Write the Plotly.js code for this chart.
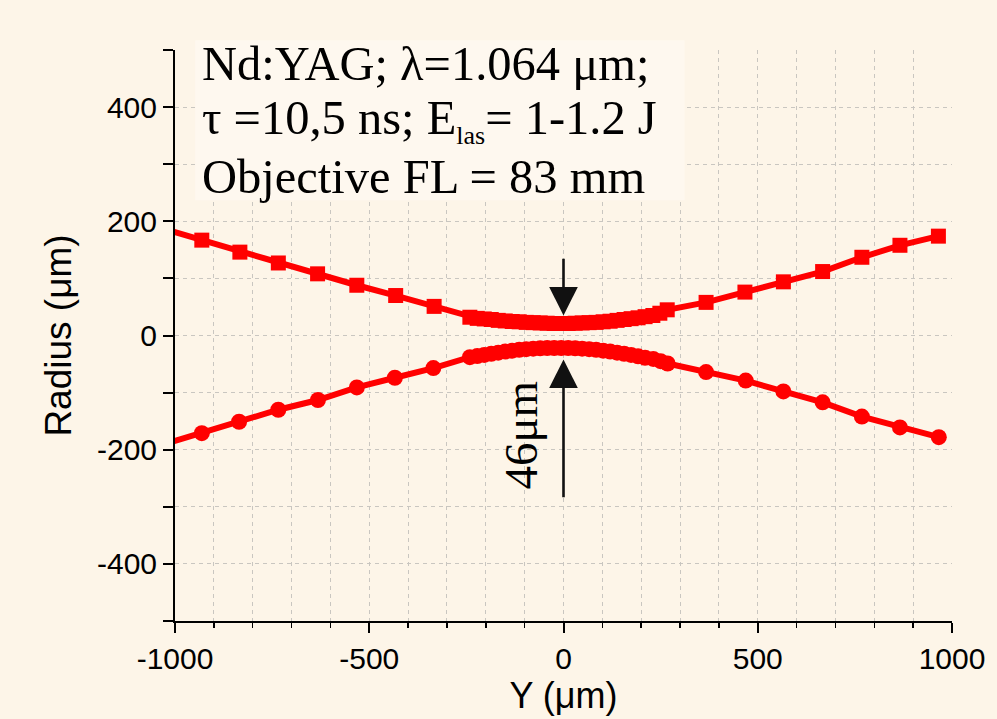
<!DOCTYPE html>
<html>
<head>
<meta charset="utf-8">
<script src="https://cdn.plot.ly/plotly-3.0.1.min.js"></script>
<style>html,body{margin:0;padding:0;background:#fdf5e8;}</style>
</head>
<body>
<div id="chart" style="width:997px;height:719px;"></div>
<script>
// Upper branch (squares): Y position (µm) and radius (µm)
const upperX = [-1031, -931, -833, -734, -633, -532, -432, -333, -241, -222, -204, -186, -168, -150, -132, -114, -96, -78, -60, -42, -24, -6, 12, 30, 48, 66, 84, 102, 120, 138, 156, 174, 192, 210, 230, 248, 267, 367, 467, 566, 667, 768, 866, 965];
const upperY = [187, 167, 146, 127, 108, 88, 70, 51, 32, 30, 29, 28, 26.5, 25.5, 24.5, 24, 23, 22.5, 22, 21.5, 21, 21, 21, 21.5, 22, 22.5, 23, 24, 25, 26.5, 28, 29.5, 31, 33, 35, 39, 45, 58, 76, 94, 112, 137, 158, 174];
// Lower branch (circles)
const lowerX = [-1031, -931, -835, -734, -632, -532, -434, -335, -241, -222, -204, -186, -168, -150, -132, -114, -96, -78, -60, -42, -24, -6, 12, 30, 48, 66, 84, 102, 120, 138, 156, 174, 192, 210, 231, 250, 268, 367, 469, 566, 667, 768, 866, 966];
const lowerY = [-191, -171, -151, -130, -113, -91, -74, -57, -38, -36, -34, -32, -30, -28, -26.5, -25, -24, -23, -22.5, -22, -22, -22, -22, -22.5, -23, -24, -25, -26.5, -28, -30, -32, -34, -36.5, -39, -41, -45, -49, -64, -79, -98, -117, -142, -161, -178];

const xTickVals = [-1000, -500, 0, 500, 1000];
const xTickText = ['-1000', '-500', '0', '500', '1000'];
const yTickVals = [-500, -400, -300, -200, -100, 0, 100, 200, 300, 400, 500];
const yTickText = ['', '-400', '', '-200', '', '0', '', '200', '', '400', ''];

const infoLines = ['Nd:YAG; λ=1.064 μm;', 'τ =10,5 ns; E<sub><span style="font-size:26px">las</span></sub>= 1-1.2 J', 'Objective FL = 83 mm'];
const waistLabel = '46μm';

const red = '#ff0000';
const bg = '#fdf5e8';
const gridC = '#c9c6c0';
const gridDash = '4px,4px';

const traces = [
  {x: upperX, y: upperY, mode: 'lines+markers', type: 'scatter',
   line: {color: red, width: 6}, marker: {symbol: 'square', size: 15, color: red}, cliponaxis: true},
  {x: lowerX, y: lowerY, mode: 'lines+markers', type: 'scatter',
   line: {color: red, width: 6}, marker: {symbol: 'circle', size: 16, color: red}, cliponaxis: true}
];

const serif = 'Liberation Serif, Times New Roman, serif';
const sans = 'Liberation Sans, Arial, sans-serif';

const lineY = [0.977, 0.877, 0.779];
const annotations = infoLines.map((t, i) => ({
  text: t, xref: 'paper', yref: 'paper', x: 0.032, y: lineY[i],
  xanchor: 'left', yanchor: 'middle', showarrow: false,
  font: {family: serif, size: 48.5, color: '#000'}
}));
annotations.push({
  text: waistLabel, xref: 'x', yref: 'y', x: -110, y: -174, textangle: -90,
  showarrow: false, font: {family: serif, size: 47, color: '#000'}
});
annotations.push({
  text: '', xref: 'x', yref: 'y', x: 0, y: 35, axref: 'x', ayref: 'y', ax: 0, ay: 137,
  showarrow: true, arrowhead: 2, arrowsize: 2.2, arrowwidth: 2.6, arrowcolor: '#111', standoff: 0
});
annotations.push({
  text: '', xref: 'x', yref: 'y', x: 0, y: -42, axref: 'x', ayref: 'y', ax: 0, ay: -286,
  showarrow: true, arrowhead: 2, arrowsize: 2.2, arrowwidth: 2.6, arrowcolor: '#111', standoff: 0
});

const layout = {
  width: 997, height: 719,
  margin: {l: 175, r: 45, t: 50, b: 98},
  paper_bgcolor: bg, plot_bgcolor: bg,
  showlegend: false,
  xaxis: {
    range: [-1000, 1000], tickmode: 'array', tickvals: xTickVals, ticktext: xTickText,
    ticks: 'outside', ticklen: 10, tickwidth: 2, tickcolor: '#000',
    showline: true, linecolor: '#000', linewidth: 2, zeroline: false,
    showgrid: true, gridcolor: gridC, griddash: gridDash, gridwidth: 1,
    minor: {tick0: 0, dtick: 100, ticks: 'outside', ticklen: 5, tickwidth: 1.5, tickcolor: '#000',
            showgrid: true, gridcolor: gridC, griddash: gridDash, gridwidth: 1},
    tickfont: {family: sans, size: 30, color: '#000'},
    title: {text: 'Y (μm)', font: {family: sans, size: 36, color: '#000'}, standoff: 6}
  },
  yaxis: {
    range: [-500, 500], tickmode: 'array', tickvals: yTickVals, ticktext: yTickText,
    ticks: 'outside', ticklen: 10, tickwidth: 2, tickcolor: '#000',
    showline: true, linecolor: '#000', linewidth: 2, zeroline: false,
    showgrid: true, gridcolor: gridC, griddash: gridDash, gridwidth: 1,
    tickfont: {family: sans, size: 30, color: '#000'},
    title: {text: 'Radius (μm)', font: {family: sans, size: 37, color: '#000'}, standoff: 14}
  },
  shapes: [{
    type: 'rect', xref: 'paper', yref: 'paper', x0: 0.026, x1: 0.656, y0: 0.737, y1: 1.017,
    fillcolor: '#fef8ef', line: {width: 0}, layer: 'above'
  }],
  annotations: annotations
};

Plotly.newPlot('chart', traces, layout, {displayModeBar: false, staticPlot: true});
</script>
</body>
</html>
